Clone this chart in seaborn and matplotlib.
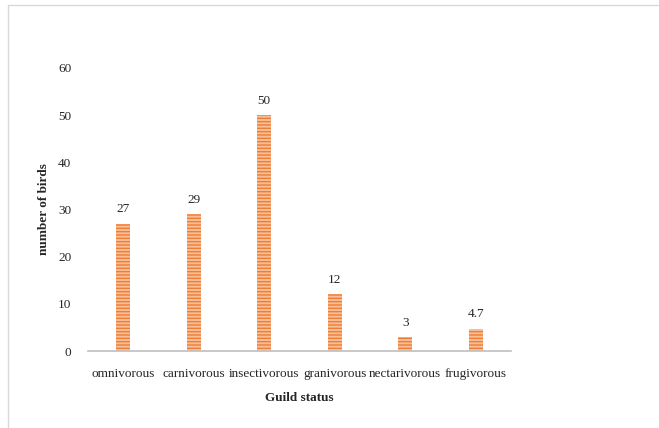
import numpy as np
import pandas as pd
import seaborn as sns
import matplotlib.pyplot as plt
from matplotlib.patches import Rectangle

guilds = ['omnivorous', 'carnivorous', 'insectivorous', 'granivorous', 'nectarivorous', 'frugivorous']
birds = [27, 29, 50, 12, 3, 4.7]
value_labels = ['27', '29', '50', '12', '3', '4.7']


def make_plot():
    df = pd.DataFrame({'guild': guilds, 'birds': birds})
    sns.set_style('white')
    plt.rcParams['font.family'] = ['Liberation Serif', 'DejaVu Serif']

    fig = plt.figure(figsize=(6.59, 4.28), dpi=100)
    ax = fig.add_axes([88 / 659, 77 / 428, 423 / 659, 283 / 428])

    sns.barplot(data=df, x='guild', y='birds', ax=ax, color='#F8BE96',
                width=0.2, saturation=1)
    for p in ax.patches:
        p.set_hatch('-----')
        p.set_edgecolor('#EE7D35')
        p.set_linewidth(0)

    for i, (v, lab) in enumerate(zip(birds, value_labels)):
        ax.annotate(lab, (i, v), xytext=(0, 6), textcoords='offset points',
                    ha='center', va='bottom', fontsize=9.5, color='#262626')

    ax.set_ylim(0, 60)
    ax.set_yticks(range(0, 61, 10))
    ax.set_xlim(-0.5, 5.5)
    for s in ['top', 'right', 'left']:
        ax.spines[s].set_visible(False)
    ax.spines['bottom'].set_color('#BFBFBF')
    ax.spines['bottom'].set_linewidth(1.2)
    ax.tick_params(axis='y', length=0, pad=12, labelsize=9.5, labelcolor='#262626')
    ax.tick_params(axis='x', length=0, pad=12, labelsize=9.5, labelcolor='#262626')
    ax.set_xlabel('Guild status', fontsize=9.5, fontweight='bold', labelpad=9)
    ax.set_ylabel('number of birds', fontsize=9.5, fontweight='bold', labelpad=6)

    fig.patches.append(Rectangle((8 / 659, -0.05), 1.2, 1 - 5 / 428 + 0.05,
                                 transform=fig.transFigure, fill=False,
                                 edgecolor='#D9D9D9', linewidth=1))
    fig.savefig('out.png', dpi=100)


if __name__ == '__main__':
    make_plot()
